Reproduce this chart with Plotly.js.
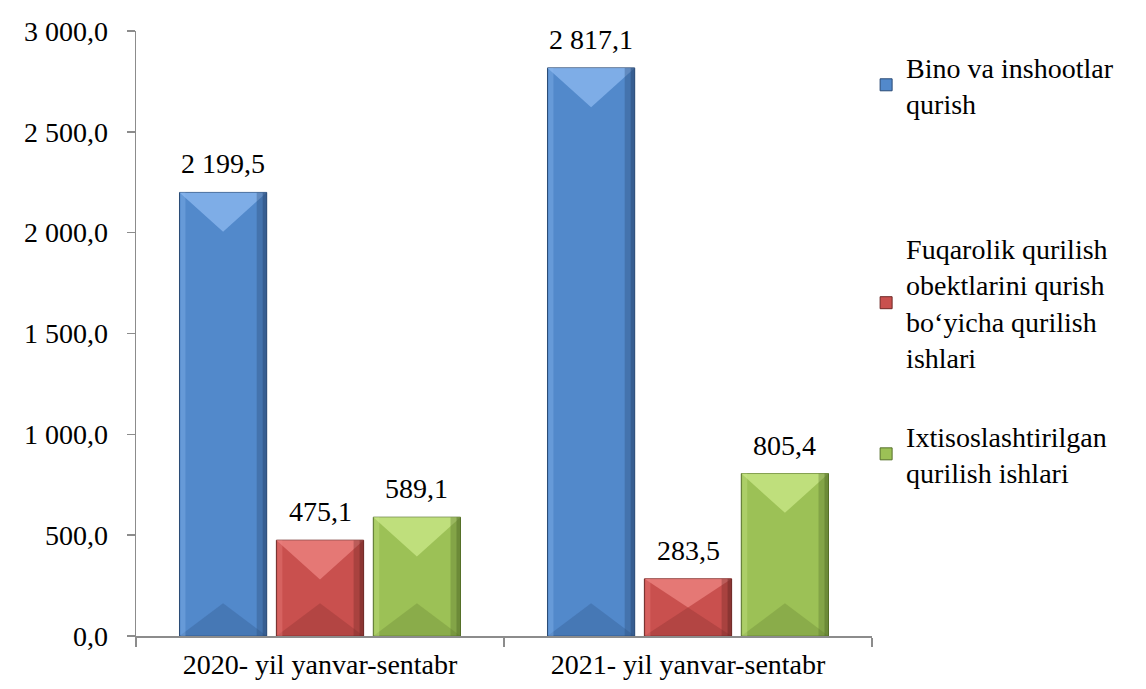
<!DOCTYPE html>
<html>
<head>
<meta charset="utf-8">
<script src="https://cdn.plot.ly/plotly-3.0.1.min.js"></script>
<style>html,body{margin:0;padding:0;background:#fff;}#chart{width:1146px;height:689px;}</style>
</head>
<body>
<div id="chart"></div>
<script>
const categories = ["2020- yil yanvar-sentabr", "2021- yil yanvar-sentabr"];
const seriesNames = [
  "Bino va inshootlar<br>qurish",
  "Fuqarolik qurilish<br>obektlarini qurish<br>bo‘yicha qurilish<br>ishlari",
  "Ixtisoslashtirilgan<br>qurilish ishlari"
];
const binoValues = [2199.5, 2817.1];
const fuqarolikValues = [475.1, 283.5];
const ixtisosValues = [589.1, 805.4];
const yTickVals = [0, 500, 1000, 1500, 2000, 2500, 3000];

const fills  = ["#5289CB", "#C9504E", "#9CC156"];
const lights = ["#8DB9F0", "#EE8583", "#CBE88A"];
const darks  = ["#3F6DA6", "#A53E3C", "#7E9E42"];
const edges  = ["#2A4A75", "#6E2826", "#55702A"];
const allValues = [binoValues, fuqarolikValues, ixtisosValues];
const legendIds = ["legend", "legend2", "legend3"];
const font = "Liberation Serif, Times New Roman, serif";
const FS = 28;

const W = 1146, H = 689;
const M = {l: 136, r: 274, t: 31, b: 53};
const BARGAP = 0.21, GROUPGAP = 0.1;
const plotW = W - M.l - M.r, plotH = H - M.t - M.b;
const yMax = 3000;
const nSeries = allValues.length;
const slot = (1 - BARGAP) / nSeries;
const catPx = plotW / categories.length;
const barPx = slot * (1 - GROUPGAP) * catPx;

function fmt(v) {
  const parts = v.toFixed(1).split(".");
  const intPart = parts[0].replace(/\B(?=(\d{3})+(?!\d))/g, " ");
  return intPart + "," + parts[1];
}

const traces = allValues.map((vals, i) => ({
  type: "bar",
  name: seriesNames[i],
  x: categories,
  y: vals,
  marker: {color: fills[i], line: {color: edges[i], width: 1}},
  legend: legendIds[i],
  hoverinfo: "skip"
}));

const shapes = [];
const annotations = [];
allValues.forEach((vals, s) => {
  vals.forEach((v, c) => {
    const off = -(1 - BARGAP) / 2 + slot * (s + 0.5);
    const xc = c + off;
    const hPx = v / yMax * plotH;
    const half = barPx / 2;
    const dTop = Math.min(half * 0.9, hPx / 2);
    const dBot = Math.min(half * 0.75, hPx / 2);
    const base = {type: "path", xref: "x", yref: "y", xsizemode: "pixel", ysizemode: "pixel",
                  xanchor: xc, line: {width: 0}, layer: "above"};
    shapes.push(Object.assign({}, base, {yanchor: v, fillcolor: lights[s], opacity: 0.75,
      path: `M ${-half},0 L ${half},0 L 0,${-dTop} Z`}));
    shapes.push(Object.assign({}, base, {yanchor: 0, fillcolor: darks[s], opacity: 0.6,
      path: `M ${-half},0 L ${half},0 L 0,${dBot} Z`}));
    shapes.push(Object.assign({}, base, {yanchor: 0, fillcolor: edges[s], opacity: 0.35,
      path: `M ${half - 10},0 L ${half},0 L ${half},${hPx} L ${half - 10},${hPx} Z`}));
    shapes.push(Object.assign({}, base, {yanchor: 0, fillcolor: edges[s], opacity: 0.5,
      path: `M ${half - 4},0 L ${half},0 L ${half},${hPx} L ${half - 4},${hPx} Z`}));
    shapes.push(Object.assign({}, base, {yanchor: 0, fillcolor: lights[s], opacity: 0.35,
      path: `M ${-half + 1},0 L ${-half + 6},0 L ${-half + 6},${hPx} L ${-half + 1},${hPx} Z`}));
    annotations.push({
      x: categories[c], y: v, xref: "x", yref: "y",
      xshift: off * catPx, yshift: 11,
      text: fmt(v), showarrow: false,
      xanchor: "center", yanchor: "bottom",
      font: {family: font, size: FS, color: "#000"}
    });
  });
});

const legendBase = {
  font: {family: font, size: FS, color: "#000"},
  bgcolor: "rgba(0,0,0,0)",
  x: 0.992, xanchor: "left", yanchor: "top",
  itemwidth: 30, tracegroupgap: 0
};

const layout = {
  width: W, height: H,
  margin: M,
  paper_bgcolor: "#fff", plot_bgcolor: "#fff",
  separators: ", ",
  barmode: "group",
  bargap: BARGAP,
  bargroupgap: GROUPGAP,
  font: {family: font, size: FS, color: "#000"},
  xaxis: {
    type: "category",
    showline: true, linecolor: "#8C8C8C", linewidth: 1.5,
    ticks: "outside", tickson: "boundaries", ticklen: 9, tickcolor: "#8C8C8C", tickwidth: 1.5,
    ticklabelstandoff: 3,
    showgrid: false, zeroline: false,
    tickfont: {family: font, size: FS, color: "#000"}
  },
  yaxis: {
    range: [0, yMax],
    tickvals: yTickVals,
    tickformat: ",.1f",
    showline: true, linecolor: "#8C8C8C", linewidth: 1.5,
    ticks: "outside", ticklen: 8, tickcolor: "#8C8C8C", tickwidth: 1.5,
    ticklabelstandoff: 13,
    showgrid: false, zeroline: false,
    tickfont: {family: font, size: FS, color: "#000"}
  },
  shapes: shapes,
  annotations: annotations,
  legend: Object.assign({}, legendBase, {y: 0.982}),
  legend2: Object.assign({}, legendBase, {y: 0.682}),
  legend3: Object.assign({}, legendBase, {y: 0.372}),
  showlegend: true
};

Plotly.newPlot("chart", traces, layout, {displayModeBar: false, staticPlot: true});
</script>
</body>
</html>
